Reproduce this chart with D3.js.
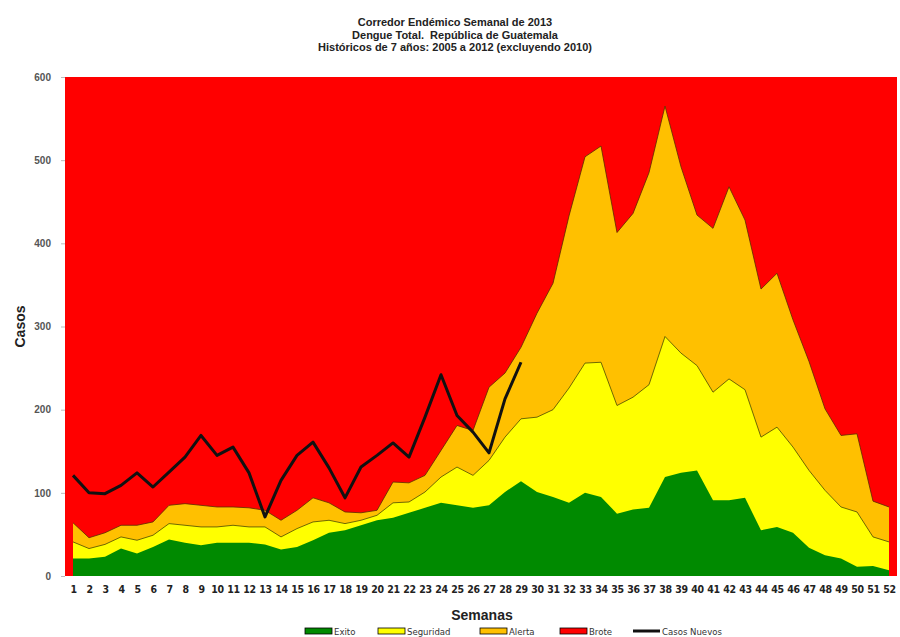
<!DOCTYPE html>
<html>
<head>
<meta charset="utf-8">
<script src="https://cdn.jsdelivr.net/npm/d3@7"></script>
<style>
  body { margin: 0; background: #fff; }
  svg { display: block; }
</style>
</head>
<body>
<div id="chart"></div>
<script>
// Semanas epidemiológicas
const weeks = d3.range(1, 53);

// Límites del corredor endémico (casos)
const exito = [21, 21, 23, 33, 27, 35, 44, 40, 37, 40, 40, 40, 38, 32, 35, 43, 52, 55, 61, 67,
	70, 76, 82, 88, 85, 82, 85, 101, 114, 101, 95, 88, 100, 95, 75, 80, 82, 119, 124, 127,
	91, 91, 94, 55, 59, 52, 34, 25, 21, 11, 12, 7];
const seguridad = [41, 33, 38, 47, 43, 49, 63, 61, 59, 59, 61, 59, 59, 47, 57, 65, 67, 63, 67, 73,
	88, 89, 101, 119, 131, 121, 139, 167, 189, 191, 200, 226, 256, 257, 205, 215, 230, 288, 268, 253,
	221, 237, 224, 167, 179, 155, 127, 103, 83, 77, 47, 41];
const alerta = [64, 46, 52, 61, 61, 65, 85, 87, 85, 83, 83, 82, 79, 67, 79, 94, 88, 77, 76, 79,
	113, 112, 121, 151, 181, 175, 227, 244, 275, 316, 352, 433, 504, 517, 413, 436, 485, 565, 492, 434,
	418, 468, 428, 345, 364, 308, 258, 201, 169, 171, 90, 83];
const brote = 600;

// Casos nuevos 2013 (semanas 1 a 29)
const casosNuevos = [121, 100, 99, 109, 124, 107, 125, 143, 169, 145, 155, 124, 71, 115, 145, 161, 130, 94,
	131, 145, 160, 143, 191, 242, 193, 173, 148, 213, 257];

const yTicks = [0, 100, 200, 300, 400, 500, 600];

const titleLines = ["Corredor Endémico Semanal de 2013",
	"Dengue Total.  República de Guatemala",
	"Históricos de 7 años: 2005 a 2012 (excluyendo 2010)"];

const legendItems = [
	{label: "Exito", color: "#008a00", x: 305},
	{label: "Seguridad", color: "#ffff00", x: 378},
	{label: "Alerta", color: "#ffc000", x: 480},
	{label: "Brote", color: "#ff0000", x: 560},
	{label: "Casos Nuevos", color: null, x: 633}
];

const W = 900, H = 637;
const margin = {top: 77, right: 3, bottom: 61, left: 65};
const width = W - margin.left - margin.right,
	  height = H - margin.top - margin.bottom;

const svg = d3.select("#chart")
	.append("svg")
	.attr("width", W)
	.attr("height", H);

const g = svg.append("g")
	.attr("transform", "translate(" + margin.left + "," + margin.top + ")");

let xScale = d3.scalePoint()
	.domain(weeks)
	.range([0, width])
	.padding(0.5);
let yScale = d3.scaleLinear()
	.domain([0, brote])
	.range([height, 0]);

// Zona de brote: todo el área de trazado
g.append("rect")
	.attr("x", xScale.range()[0])
	.attr("y", yScale(brote))
	.attr("width", xScale.range()[1] - xScale.range()[0])
	.attr("height", yScale(0) - yScale(brote))
	.attr("fill", "#ff0000");

const rows = weeks.map((w, i) => ({w: w, e: exito[i], s: seguridad[i], a: alerta[i]}));

function band(lo, hi) {
	return d3.area()
		.x(d => xScale(d.w))
		.y0(d => yScale(lo(d)))
		.y1(d => yScale(hi(d)));
}

g.append("path")
	.attr("d", band(d => 0, d => d.a)(rows))
	.attr("fill", "#ffc000");
g.append("path")
	.attr("d", band(d => 0, d => d.s)(rows))
	.attr("fill", "#ffff00");
g.append("path")
	.attr("d", band(d => 0, d => d.e)(rows))
	.attr("fill", "#008a00");

// Bordes finos de las zonas
const edge = key => d3.line().x(d => xScale(d.w)).y(d => yScale(d[key]));
g.append("path")
	.attr("d", edge("a")(rows))
	.attr("fill", "none")
	.attr("stroke", "#5a2a00")
	.attr("stroke-width", 0.8);
g.append("path")
	.attr("d", edge("s")(rows))
	.attr("fill", "none")
	.attr("stroke", "#4a4a00")
	.attr("stroke-width", 0.8);

// Casos nuevos
const casosLine = d3.line()
	.x((d, i) => xScale(weeks[i]))
	.y(d => yScale(d));
g.append("path")
	.attr("d", casosLine(casosNuevos))
	.attr("fill", "none")
	.attr("stroke", "#111")
	.attr("stroke-width", 3)
	.attr("stroke-linejoin", "round");

// Eje x
const xAxis = g.append("g")
	.attr("transform", "translate(0," + height + ")")
	.call(d3.axisBottom(xScale).tickSize(0).tickPadding(10));
xAxis.select(".domain").remove();
xAxis.selectAll("text")
	.attr("font-family", "'DejaVu Sans Condensed', 'Liberation Sans Narrow', sans-serif")
	.attr("font-weight", "bold")
	.attr("font-size", "10.5px")
	.attr("fill", "#222")
	.attr("letter-spacing", "-0.4px");

// Eje y
const yAxis = g.append("g")
	.call(d3.axisLeft(yScale).tickValues(yTicks).tickSize(4).tickPadding(10));
yAxis.select(".domain").remove();
yAxis.selectAll(".tick line").attr("stroke", "#bbb");
yAxis.selectAll("text")
	.attr("font-family", "'Liberation Sans', Arial, sans-serif")
	.attr("font-weight", "bold")
	.attr("font-size", "10px")
	.attr("fill", "#555");

// Títulos
svg.append("g").selectAll("text")
	.data(titleLines)
	.enter().append("text")
	.attr("x", 455)
	.attr("y", (d, i) => 26 + i * 12.5)
	.attr("text-anchor", "middle")
	.attr("xml:space", "preserve")
	.style("white-space", "pre")
	.attr("font-family", "'Liberation Sans', Arial, sans-serif")
	.attr("font-weight", "bold")
	.attr("font-size", "11px")
	.attr("fill", "#222")
	.text(d => d);

svg.append("text")
	.attr("transform", "translate(25," + (margin.top + height / 2) + ") rotate(-90)")
	.attr("text-anchor", "middle")
	.attr("font-family", "'Liberation Sans', Arial, sans-serif")
	.attr("font-weight", "bold")
	.attr("font-size", "14px")
	.attr("fill", "#222")
	.text("Casos");

svg.append("text")
	.attr("x", 482)
	.attr("y", 620)
	.attr("text-anchor", "middle")
	.attr("font-family", "'Liberation Sans', Arial, sans-serif")
	.attr("font-weight", "bold")
	.attr("font-size", "14px")
	.attr("fill", "#222")
	.text("Semanas");

// Leyenda
const legend = svg.append("g").attr("transform", "translate(0,631)");
legendItems.forEach(it => {
	if (it.color) {
		legend.append("rect")
			.attr("x", it.x).attr("y", -3)
			.attr("width", 27).attr("height", 6)
			.attr("fill", it.color)
			.attr("stroke", "#000")
			.attr("stroke-width", 0.8);
	} else {
		legend.append("line")
			.attr("x1", it.x).attr("x2", it.x + 27)
			.attr("y1", 0).attr("y2", 0)
			.attr("stroke", "#111")
			.attr("stroke-width", 3);
	}
	legend.append("text")
		.attr("x", it.x + 29)
		.attr("y", 3.5)
		.attr("font-family", "'DejaVu Sans Condensed', sans-serif")
		.attr("font-size", "9.5px")
		.attr("fill", "#333")
		.text(it.label);
});
</script>
</body>
</html>
